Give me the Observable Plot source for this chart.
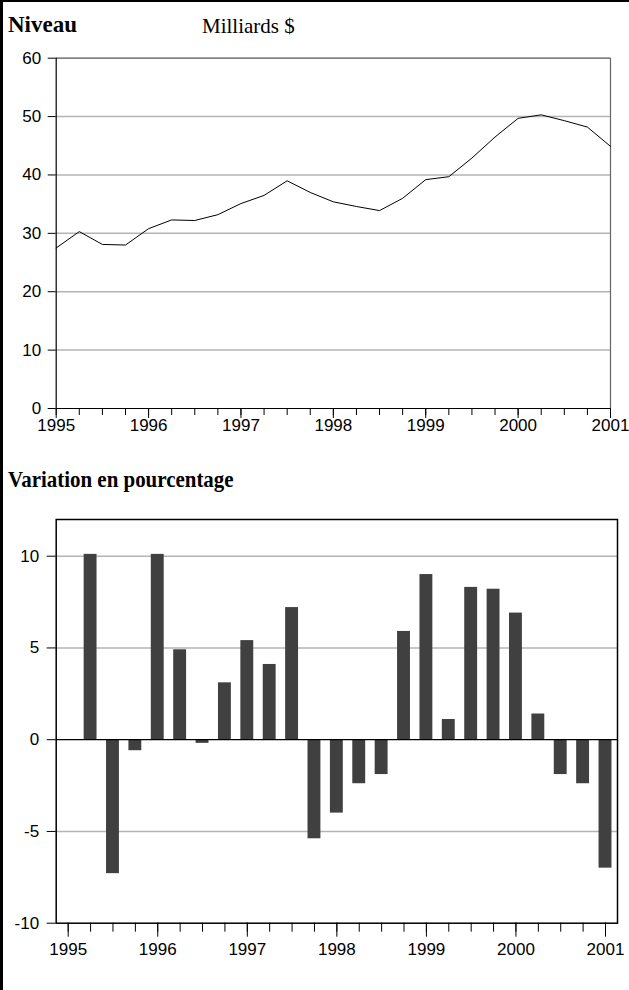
<!DOCTYPE html>
<html>
<head>
<meta charset="utf-8">
<script src="https://cdn.jsdelivr.net/npm/d3@7"></script>
<script src="https://cdn.jsdelivr.net/npm/@observablehq/plot@0.6"></script>
<style>
  body { margin: 0; background: #fff; }
  #page { position: relative; width: 629px; height: 990px; overflow: hidden; background: #fff; }
  #frame { position: absolute; left: 0; top: 0; width: 629px; height: 990px; box-sizing: border-box;
           border-left: 3px solid #000; border-top: 2px solid #000; pointer-events: none; z-index: 5; }
  .t { position: absolute; font-family: "Liberation Serif", "Times New Roman", serif; color: #000;
       line-height: 1; white-space: nowrap; transform-origin: 0 0; }
  .b { font-weight: bold; font-size: 23px; }
  #chartTop { position: absolute; left: 0; top: 40px; }
  #chartBottom { position: absolute; left: 0; top: 500px; }
</style>
</head>
<body>
<div id="page">
  <div id="frame"></div>
  <div class="t b" style="left:8px; top:13px;">Niveau</div>
  <div class="t" style="left:202px; top:15.5px; font-size:21px;">Milliards $</div>
  <div class="t b" style="left:8px; top:468px; transform: scaleX(0.91);">Variation en pourcentage</div>
  <div id="chartTop"></div>
  <div id="chartBottom"></div>
</div>
<script>
// ---- Data ----
const quarters = [1995, 1995.25, 1995.5, 1995.75, 1996, 1996.25, 1996.5, 1996.75,
                  1997, 1997.25, 1997.5, 1997.75, 1998, 1998.25, 1998.5, 1998.75,
                  1999, 1999.25, 1999.5, 1999.75, 2000, 2000.25, 2000.5, 2000.75, 2001];
const niveau = [27.5, 30.3, 28.1, 28.0, 30.8, 32.3, 32.2, 33.2,
                35.1, 36.5, 39.0, 37.0, 35.4, 34.6, 33.9, 36.0,
                39.2, 39.7, 42.9, 46.5, 49.7, 50.3, 49.3, 48.2, 44.9];
const variationQuarters = quarters.slice(1);
const variation = [10.1, -7.3, -0.6, 10.1, 4.9, -0.2, 3.1, 5.4,
                   4.1, 7.2, -5.4, -4.0, -2.4, -1.9, 5.9, 9.0,
                   1.1, 8.3, 8.2, 6.9, 1.4, -1.9, -2.4, -7.0];
const years = [1995, 1996, 1997, 1998, 1999, 2000, 2001];
const topYTicks = [0, 10, 20, 30, 40, 50, 60];
const bottomYTicks = [-10, -5, 0, 5, 10];

const levelData = quarters.map((q, i) => ({q, v: niveau[i]}));
const barData = variationQuarters.map((q, i) => ({q, v: variation[i]}));

const FONT = "'Liberation Sans', Arial, sans-serif";
const axisStyle = {fontFamily: FONT, fontSize: "17px", color: "#000", background: "transparent", overflow: "visible"};
const lab = {fontSize: 17, fontFamily: FONT, fill: "#000", label: null, tickFormat: d => String(d)};

// ---- Top: level ----
const levelChart = Plot.plot({
  width: 629, height: 400,
  marginLeft: 55.7, marginRight: 19, marginTop: 17.7, marginBottom: 32,
  x: {type: "linear", domain: [1995, 2001]},
  y: {domain: [0, 60]},
  style: axisStyle,
  marks: [
    Plot.gridY([10, 20, 30, 40, 50], {stroke: "#b4b4b4", strokeOpacity: 1, strokeWidth: 1.5}),
    Plot.ruleY([60], {stroke: "#555", strokeWidth: 1.2}),
    Plot.ruleX([2001], {stroke: "#666", strokeWidth: 1.2}),
    Plot.line(levelData, {x: "q", y: "v", stroke: "#000", strokeWidth: 1}),
    Plot.axisY(topYTicks, {...lab, tickSize: 8, tickPadding: 7}),
    Plot.axisX(quarters, {tickSize: 7, tickFormat: () => "", label: null}),
    Plot.axisX(years, {...lab, tickSize: 10, tickPadding: 0}),
    Plot.ruleY([0], {stroke: "#000", strokeWidth: 1.2}),
    Plot.ruleX([1995], {stroke: "#000", strokeWidth: 1.2})
  ]
});
document.getElementById("chartTop").appendChild(levelChart);

// ---- Bottom: percentage change ----
const changeChart = Plot.plot({
  width: 629, height: 458,
  marginLeft: 55.7, marginRight: 12, marginTop: 19, marginBottom: 35.3,
  x: {type: "linear", domain: [1994.866, 2001.134]},
  y: {domain: [-10, 12]},
  style: axisStyle,
  marks: [
    Plot.gridY([-5, 5, 10], {stroke: "#b4b4b4", strokeOpacity: 1, strokeWidth: 1.5}),
    Plot.rectY(barData, {x1: d => d.q - 0.072, x2: d => d.q + 0.072, y: "v", fill: "#404040"}),
    Plot.ruleY([0], {stroke: "#000", strokeWidth: 1.2}),
    Plot.frame({stroke: "#000", strokeWidth: 1.5}),
    Plot.axisY(bottomYTicks, {...lab, tickSize: 9, tickPadding: 8}),
    Plot.axisX(quarters, {tickSize: 9, tickFormat: () => "", label: null}),
    Plot.axisX(years, {...lab, tickSize: 14, tickPadding: 6})
  ]
});
document.getElementById("chartBottom").appendChild(changeChart);
</script>
</body>
</html>
